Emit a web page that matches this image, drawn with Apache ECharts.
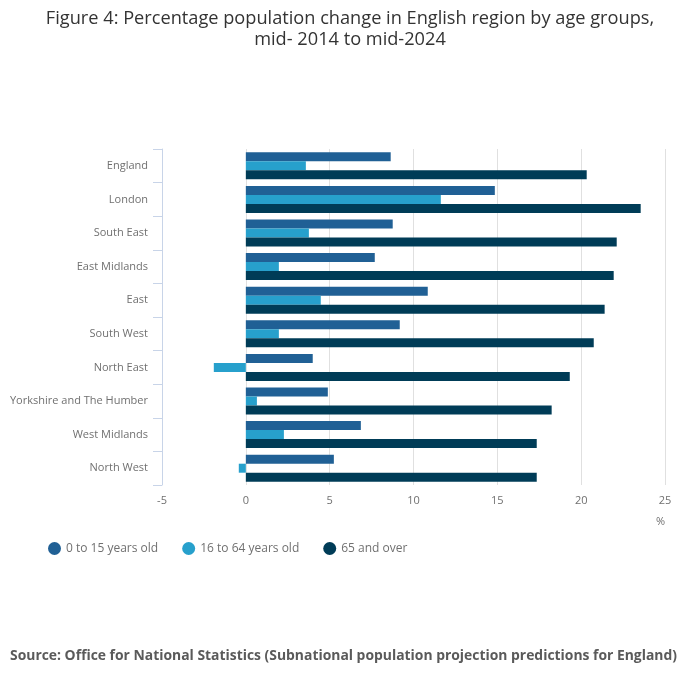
<!DOCTYPE html>
<html>
<head>
<meta charset="utf-8">
<script src="https://cdn.jsdelivr.net/npm/echarts@6/dist/echarts.min.js"></script>
<style>
html,body{margin:0;padding:0;background:#fff;}
#chart{width:700px;height:682px;}
</style>
</head>
<body>
<div id="chart"></div>
<script>
const categories = ["England","London","South East","East Midlands","East","South West","North East","Yorkshire and The Humber","West Midlands","North West"];
const age0to15 = [8.64, 14.85, 8.76, 7.69, 10.85, 9.18, 3.99, 4.89, 6.86, 5.25];
const age16to64 = [3.58, 11.63, 3.76, 1.97, 4.47, 1.97, -1.91, 0.66, 2.27, -0.42];
const age65plus = [20.33, 23.55, 22.12, 21.94, 21.40, 20.75, 19.32, 18.24, 17.35, 17.35];
const seriesNames = ["0 to 15 years old", "16 to 64 years old", "65 and over"];
const colors = ["#206095", "#27a0cc", "#003c57"];

const chart = echarts.init(document.getElementById('chart'));
const font = "'Open Sans', sans-serif";
const mk = (name, data, c) => ({
  name: name, type: 'bar', data: data, barWidth: 9, barGap: '0%',
  itemStyle: { color: c }, emphasis: { disabled: true }
});
chart.setOption({
  animation: false,
  color: colors,
  textStyle: { fontFamily: font },
  title: [{
    text: "Figure 4: Percentage population change in English region by age groups,\nmid- 2014 to mid-2024",
    left: 'center', top: 3,
    textStyle: { fontFamily: font, fontSize: 18.2, fontWeight: 'normal', color: '#333', lineHeight: 21, align: 'center' }
  }, {
    text: "Source: Office for National Statistics (Subnational population projection predictions for England)",
    left: 5, top: 644,
    textStyle: { fontFamily: font, fontSize: 13.9, fontWeight: 'bold', color: '#5a5a5a' }
  }],
  legend: {
    left: 48, top: 542, padding: 0, itemWidth: 13, itemHeight: 13, itemGap: 24, icon: 'circle',
    textStyle: { fontFamily: font, fontSize: 12, color: '#707070' },
    data: seriesNames
  },
  grid: { left: 162, right: 35, top: 149, bottom: 197, containLabel: false },
  xAxis: {
    type: 'value', min: -5, max: 25, interval: 5,
    name: '%', nameLocation: 'end', nameGap: 0,
    nameTextStyle: { fontFamily: font, fontSize: 11, color: '#707070', align: 'right', verticalAlign: 'top', padding: [31, 0, 0, 0] },
    axisLine: { show: false }, axisTick: { show: false },
    axisLabel: { fontFamily: font, fontSize: 11, color: '#707070', margin: 10 },
    splitLine: { show: true, lineStyle: { color: '#e0e0e0', width: 1 } }
  },
  yAxis: {
    type: 'category', data: categories, inverse: true,
    axisLine: { show: true, onZero: false, lineStyle: { color: '#c8d4e8', width: 1 } },
    axisTick: { show: true, length: 9, lineStyle: { color: '#c8d4e8' } },
    axisLabel: { fontFamily: font, fontSize: 11, color: '#707070', margin: 14, padding: [6, 0, 0, 0] },
    splitLine: { show: false }
  },
  series: [
    mk(seriesNames[0], age0to15, colors[0]),
    mk(seriesNames[1], age16to64, colors[1]),
    mk(seriesNames[2], age65plus, colors[2])
  ]
});
</script>
</body>
</html>
